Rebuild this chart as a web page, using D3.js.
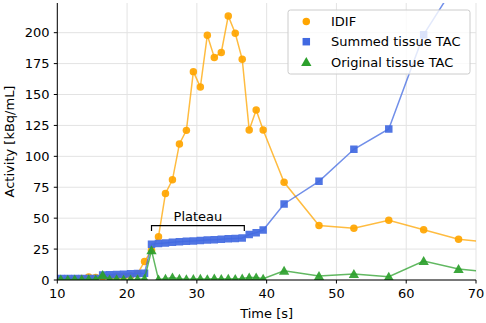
<!DOCTYPE html>
<html><head><meta charset="utf-8">
<script src="https://cdn.jsdelivr.net/npm/d3@7"></script>
<style>
body{margin:0;background:#fff;}
svg{display:block;font-family:"DejaVu Sans",sans-serif;}
</style></head>
<body><svg id="c" width="486" height="323"></svg>
<script>
// ---- data ----
const timesShort = [9.5,10.5,11.5,12.5,13.5,14.5,15.5,16.5,17.5,18.5,19.5,20.5,21.5,22.5,23.5,24.5,25.5,26.5,27.5,28.5,29.5,30.5,31.5,32.5,33.5,34.5,35.5,36.5,37.5,38.5,39.5];
const timesLong = [42.5,47.5,52.5,57.5,62.5,67.5,72.5];
const idifShort = [0,0.2,0.4,0.8,1.2,2.5,2,2.5,2.5,3,3,3.5,5,15,24,35,70,81,110,121,168.5,156,198,180,184,213.5,199.5,178.5,121.3,137.5,121.3];
const idifLong = [79,44,41.8,48.3,40.7,32.9,30];
const summedShort = [1.2,1.2,1.2,1.2,1.2,1.2,1.2,4.0,4.2,4.5,4.7,5.0,5.2,5.5,29,29.5,30,30.5,31,31.3,31.6,32,32.3,32.6,33,33.3,33.6,34,36.8,38.3,40.4];
const summedLong = [61.5,79.8,105.7,122.1,198.4,243,278];
const originalShort = [0.5,0.5,0.3,0.5,0.4,0.6,0.5,4,0.5,0.6,0.4,0.5,0.6,1,24,0.5,1,2,1,0.6,0.8,1,0.7,1.2,0.8,1,0.9,1.2,2,2,1];
const originalLong = [7.5,3.2,4.9,2.7,15.4,8.9,6];
const xTicks = [10,20,30,40,50,60,70];
const yTicks = [0,25,50,75,100,125,150,175,200];
const seriesNames = ["IDIF","Summed tissue TAC","Original tissue TAC"];
const plateau = {start:23.5, end:36.8, level:44, label:"Plateau"};

// ---- build ----
const times = timesShort.concat(timesLong);
const series = [
  {name:seriesNames[0], vals:idifShort.concat(idifLong), color:"#ffa500", marker:"circle"},
  {name:seriesNames[1], vals:summedShort.concat(summedLong), color:"#4169e1", marker:"square"},
  {name:seriesNames[2], vals:originalShort.concat(originalLong), color:"#2ca02c", marker:"triangle"}
];

const svg = d3.select("#c");
const L=57.3, R=476, T=3, B=280;
const x = d3.scaleLinear().domain([10,70]).range([L,R]);
const y = d3.scaleLinear().domain([0,224]).range([B,T]);

svg.append("defs").append("clipPath").attr("id","clip")
  .append("rect").attr("x",L).attr("y",T).attr("width",R-L).attr("height",B-T);

// grid
const grid = svg.append("g").attr("stroke","#e3e3e3").attr("stroke-width",1);
xTicks.forEach(t=>grid.append("line").attr("x1",x(t)).attr("x2",x(t)).attr("y1",T).attr("y2",B));
yTicks.forEach(t=>grid.append("line").attr("x1",L).attr("x2",R).attr("y1",y(t)).attr("y2",y(t)));

const plot = svg.append("g").attr("clip-path","url(#clip)");
const line = d3.line().x((d,i)=>x(times[i])).y(d=>y(d));
const sym = {circle:d3.symbolCircle, square:d3.symbolSquare, triangle:d3.symbolTriangle};
const symSize = {circle:44, square:56, triangle:46};

series.forEach(s=>{
  const g = plot.append("g");
  g.append("path").attr("d",line(s.vals)).attr("fill","none")
    .attr("stroke",s.color).attr("stroke-width",1.5).attr("stroke-opacity",0.75);
  g.selectAll("path.m").data(s.vals).enter().append("path").attr("class","m")
    .attr("d",d3.symbol().type(sym[s.marker]).size(symSize[s.marker]))
    .attr("transform",(d,i)=>`translate(${x(times[i])},${y(d)+(s.marker==="triangle"?1:0)})`)
    .attr("fill",s.color).attr("fill-opacity",0.92);
});

// plateau bracket
const ph = y(plateau.level), pl = y(plateau.level-4.3);
svg.append("path").attr("d",`M${x(plateau.start)},${pl}V${ph}H${x(plateau.end)}V${pl}`)
  .attr("fill","none").attr("stroke","#000").attr("stroke-width",1.2);
svg.append("text").attr("x",x((plateau.start+plateau.end)/2)).attr("y",ph-5)
  .attr("text-anchor","middle").attr("font-size",13).text(plateau.label);

// spines
svg.append("line").attr("x1",L).attr("x2",L).attr("y1",T).attr("y2",B).attr("stroke","#000").attr("stroke-width",1);
svg.append("line").attr("x1",L).attr("x2",R).attr("y1",B).attr("y2",B).attr("stroke","#000").attr("stroke-width",1);

// ticks
xTicks.forEach(t=>{
  svg.append("line").attr("x1",x(t)).attr("x2",x(t)).attr("y1",B).attr("y2",B+3.5).attr("stroke","#000");
  svg.append("text").attr("x",x(t)).attr("y",297.5).attr("text-anchor","middle").attr("font-size",13).text(t);
});
yTicks.forEach(t=>{
  svg.append("line").attr("x1",L-3.5).attr("x2",L).attr("y1",y(t)).attr("y2",y(t)).attr("stroke","#000");
  svg.append("text").attr("x",49.5).attr("y",y(t)+4.7).attr("text-anchor","end").attr("font-size",13).text(t);
});

// axis labels
svg.append("text").attr("x",(L+R)/2).attr("y",317.5).attr("text-anchor","middle").attr("font-size",13).text("Time [s]");
svg.append("text").attr("transform",`translate(13.5,${(T+B)/2}) rotate(-90)`).attr("text-anchor","middle").attr("font-size",13).text("Activity [kBq/mL]");

// legend
const lg = svg.append("g");
lg.append("rect").attr("x",288).attr("y",10).attr("width",182).attr("height",64).attr("rx",2.5)
  .attr("fill","#fff").attr("fill-opacity",0.8).attr("stroke","#cccccc").attr("stroke-width",1);
series.forEach((s,i)=>{
  const cy = 21.5 + i*20.2;
  lg.append("path").attr("d",d3.symbol().type(sym[s.marker]).size(symSize[s.marker]))
    .attr("transform",`translate(306.3,${cy+(s.marker==="triangle"?1:0)})`).attr("fill",s.color);
  lg.append("text").attr("x",331).attr("y",cy+4.7).attr("font-size",13).text(s.name);
});
</script></body></html>
